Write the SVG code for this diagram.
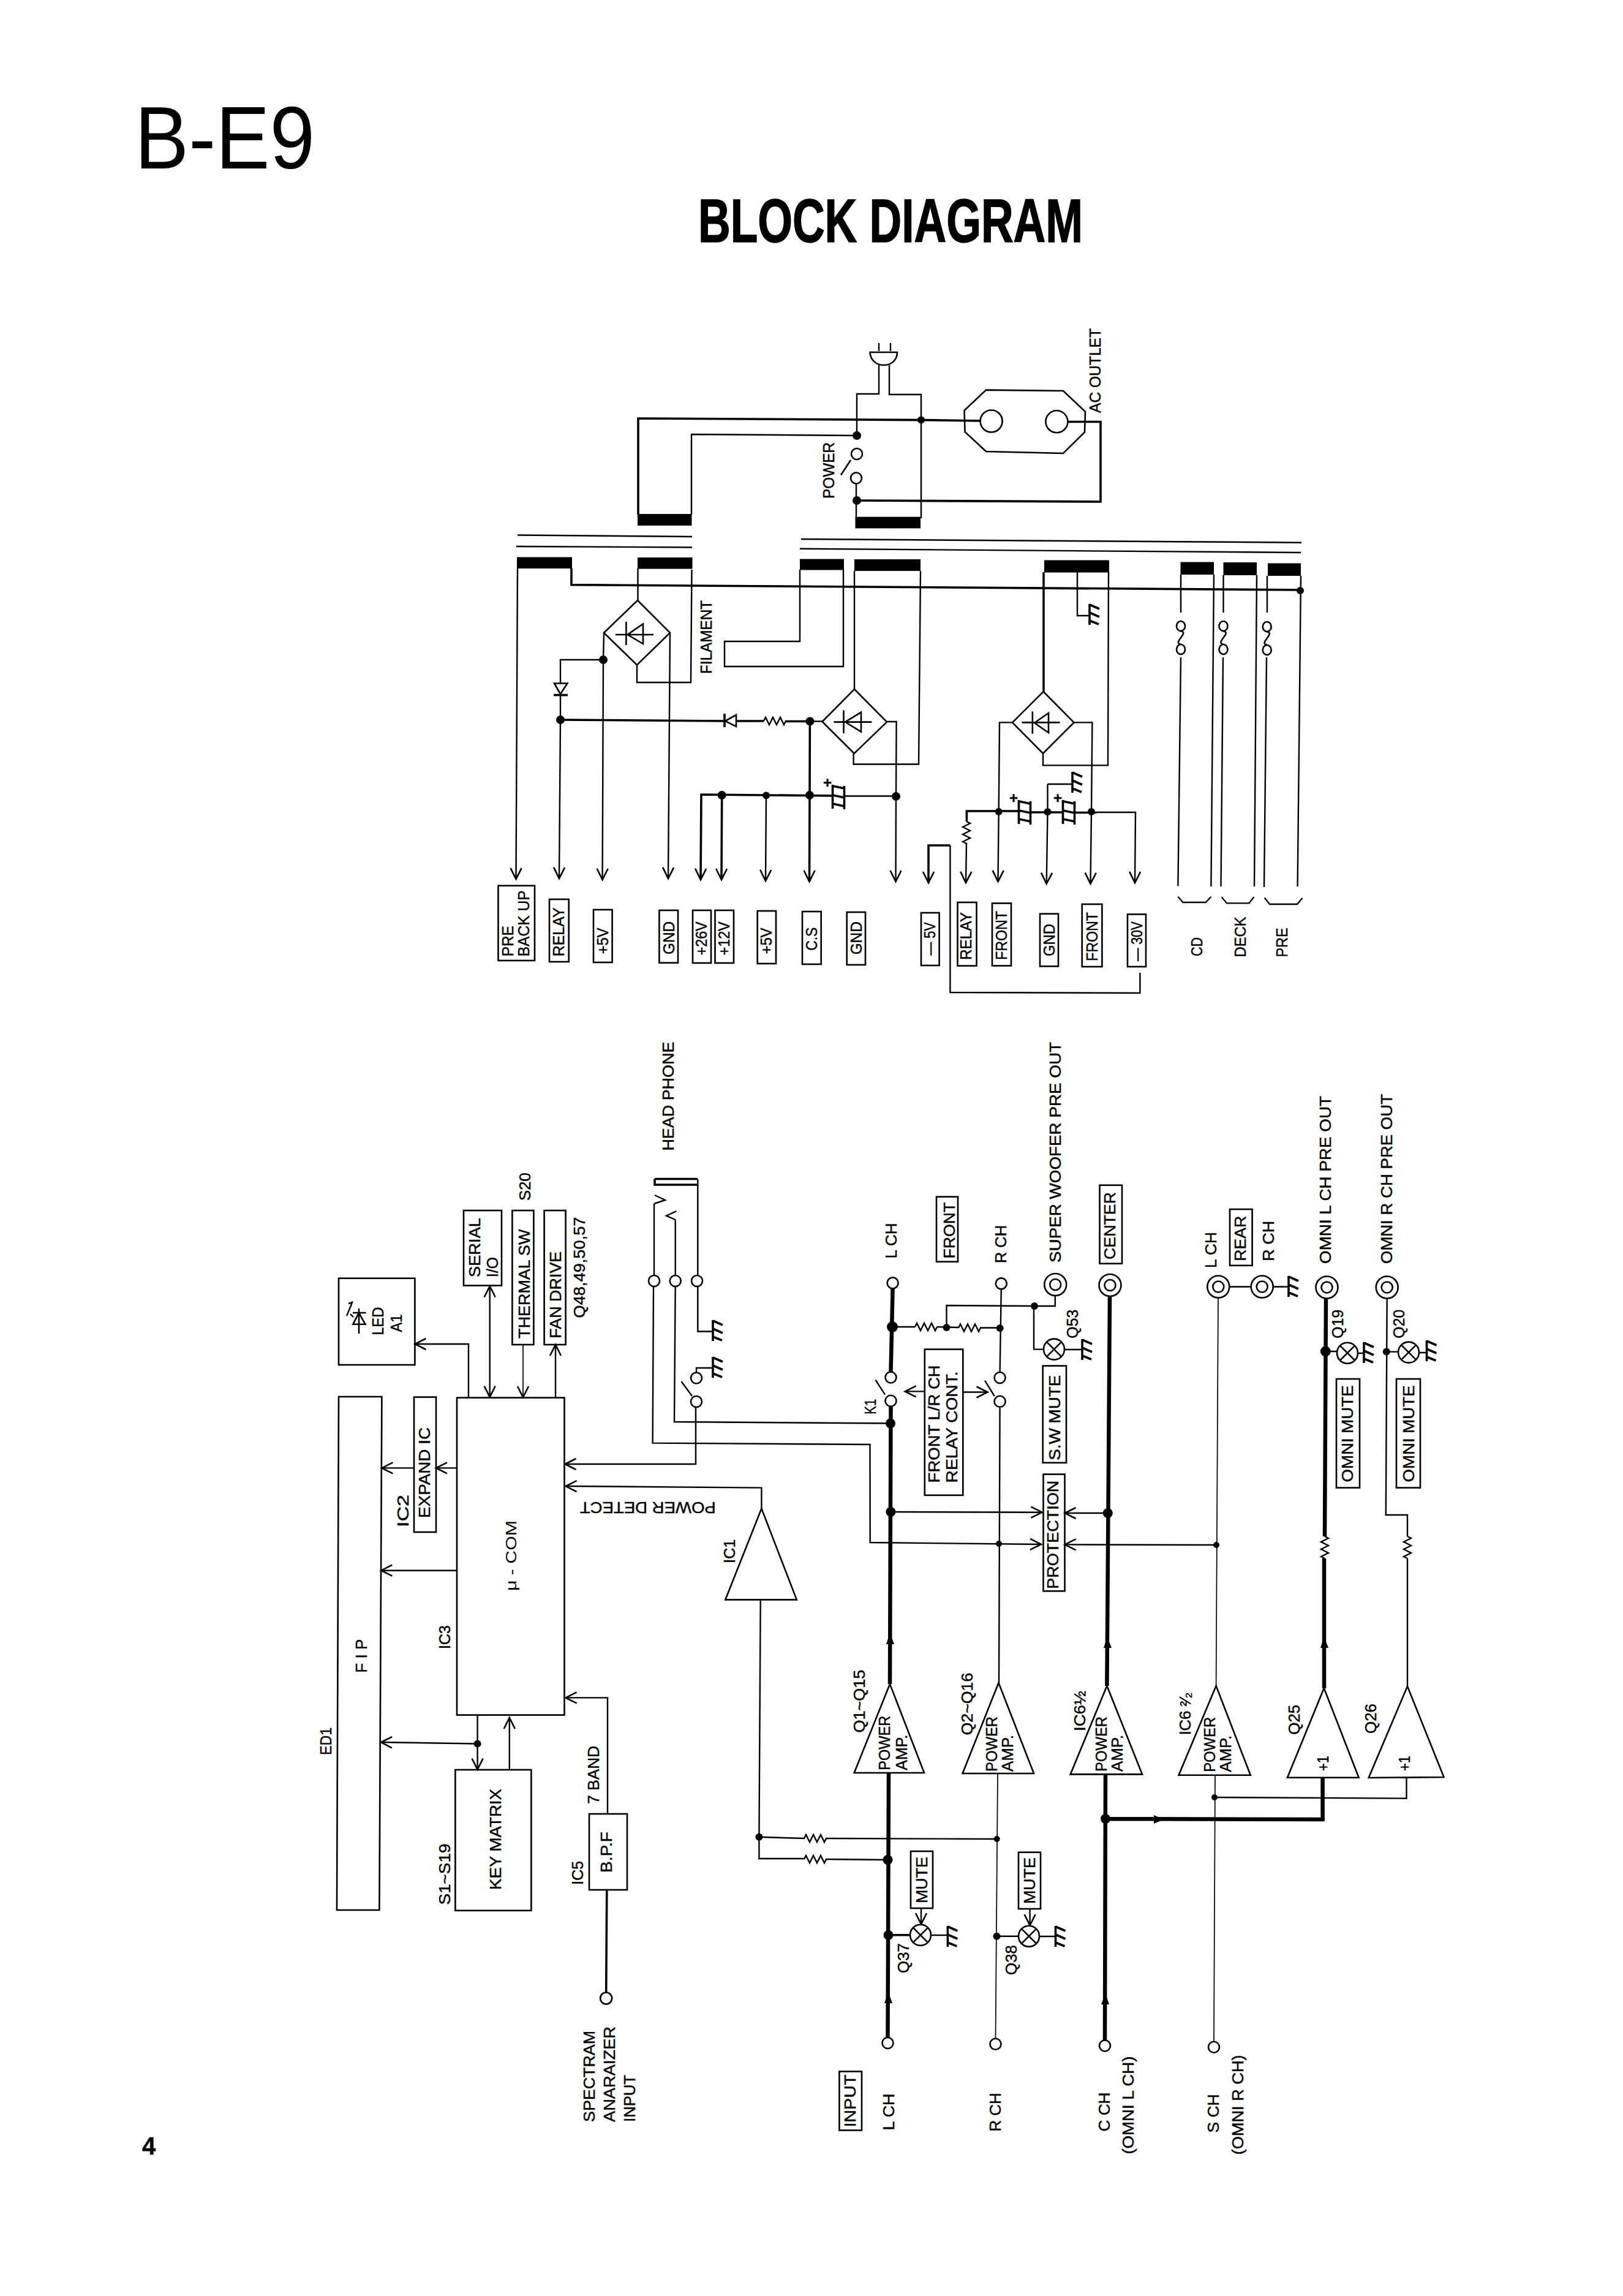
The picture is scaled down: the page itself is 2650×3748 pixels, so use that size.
<svg xmlns="http://www.w3.org/2000/svg" xmlns:xlink="http://www.w3.org/1999/xlink" width="2650" height="3748" viewBox="0 0 2650 3748">
<style>
text{font-family:"Liberation Sans",Arial,sans-serif;fill:#000;font-size:26px;stroke:#000;stroke-width:.45px}
.w,.t,.b,.bus,.s{fill:none;stroke:#000;stroke-linejoin:miter}
.w{stroke-width:2.4}.t{stroke-width:1.7}.b{stroke-width:3.6}.bus{stroke-width:6.5}
.s{stroke-width:2.6}
.o{fill:#fff;stroke:#000;stroke-width:2.6}
.k{fill:#000;stroke:none}
</style>
<defs>
<marker id="a" markerUnits="userSpaceOnUse" markerWidth="24" markerHeight="26" refX="20" refY="12" orient="auto-start-reverse"><path d="M2,3 L20,12 L2,21" fill="none" stroke="#000" stroke-width="2.6"/></marker>
<g id="gnd"><path class="b" d="M0,-17V17"/><path class="b" d="M0,-16L16,-9M0,-3L16,4M0,10L15,16"/></g>
<g id="cap"><path class="b" d="M-9.5,-19V20M9.5,-17V21M-9.5,-17L9.5,-13M-9.5,-2L9.5,2M-9.5,12L9.5,16"/></g>
<g id="rz"><path class="w" d="M0,0l3,-6l6,12l6,-12l6,12l6,-12l6,12l3,-6"/></g>
<g id="fuse"><ellipse class="s" cx="0" cy="-19" rx="7" ry="8" fill="none"/><ellipse class="s" cx="0" cy="19" rx="7" ry="8" fill="none"/><path class="s" d="M-1,-11C16,-9 -16,9 1,11"/></g>
<g id="xc"><circle class="o" r="17"/><path class="s" d="M-12,-12L12,12M-12,12L12,-12"/></g>
<g id="jk"><circle class="o" r="18"/><circle class="o" r="9"/></g>
</defs>

<g id="title">
<text x="220" y="275" textLength="294" lengthAdjust="spacingAndGlyphs" style="font-size:144px;stroke-width:0">B-E9</text>
<text x="1140" y="395" textLength="628" lengthAdjust="spacingAndGlyphs" style="font-size:100px;font-weight:700;stroke-width:1.5px">BLOCK DIAGRAM</text>
<text x="232" y="3517" style="font-size:40px;font-weight:700">4</text>
</g>

<g id="connectors">
<path class="w" d="M1435,560V573M1454,560V573M1435,596V643H1399V711M1452,596V644H1504V846"/>
<path class="w" d="M1129,840V709L1398,711"/>
<path class="b" d="M1042,840V683L1504,685.6L1601,687"/>
<path class="b" d="M1743,688.5H1797V819L1399,817"/>
<path class="w" d="M1398,790V845"/>
<path class="w" d="M845,873.5L1130,876M843,892L1130,893.5M1308,880L2125,885.7M1306,895.7L2124,902"/>
<path class="b" d="M933,928V954.6L2123,963"/>
<path class="w" d="M845,928L842.5,1435" marker-end="url(#a)"/>
<path class="w" d="M1041.5,928V980M1040,1085.5V1114H1128L1129.5,930"/>
<path class="w" d="M986,1033L985,1077L983.6,1436" marker-end="url(#a)"/>
<path class="w" d="M1094,1033L1091,1434" marker-end="url(#a)"/>
<path class="w" d="M985,1077H915V1115M915,1135V1175L913,1434" marker-end="url(#a)"/>
<path class="b" d="M915,1175L1184,1177"/>
<path class="b" d="M1202,1177H1247M1282,1177.5H1322.4"/>
<path class="w" d="M1322.4,1177.5H1342.5"/>
<path class="w" d="M1306,930V1047H1183V1088H1377V930"/>
<path class="w" d="M1395,932V1125M1393.6,1230V1247.5H1500L1503,932"/>
<path class="b" d="M1322.4,1177.5L1322,1298L1321.5,1439" marker-end="url(#a)"/>
<path class="b" d="M1144,1436L1145,1297L1360,1299" marker-start="url(#a)"/>
<path class="b" d="M1178.7,1298L1178,1436" marker-end="url(#a)"/>
<path class="w" d="M1251,1298.5L1250,1438" marker-end="url(#a)"/>
<path class="w" d="M1379,1299.5H1463"/>
<path class="w" d="M1447.5,1178H1463.6L1463,1300L1462.5,1439" marker-end="url(#a)"/>
<path class="b" d="M1551.4,1380H1516L1516,1441" marker-end="url(#a)"/>
<path class="w" d="M1551.4,1380V1620L1861.4,1621V1588"/>
<path class="b" d="M1704,934V1129"/>
<path class="w" d="M1703,1230V1249.4H1809L1810,934"/>
<path class="w" d="M1759,934V1005H1779"/>
<path class="w" d="M1653,1179.4H1632L1630.7,1325L1629.5,1439" marker-end="url(#a)"/>
<path class="w" d="M1753.5,1179.4H1783.4L1782,1325L1780.5,1442.7" marker-end="url(#a)"/>
<path class="b" d="M1578.4,1341V1324H1664M1683,1326H1735M1755,1326.5H1790"/>
<path class="w" d="M1790,1326H1854L1853,1441" marker-end="url(#a)"/>
<path class="w" d="M1578,1376L1577,1441" marker-end="url(#a)"/>
<path class="w" d="M1710.5,1280V1325L1708.7,1442.7" marker-end="url(#a)"/>
<path class="w" d="M1710.5,1280H1751"/>
<path class="w" d="M1928,938V1000M1928,1073L1923.4,1446.5M1982,938L1977.4,1447M1997.5,939V1000M1997,1073L1993.5,1447M2052,939L2048,1447M2069,940V1000M2068,1073L2064,1448M2124,940L2118.6,1447"/>
<path class="w" d="M1923.4,1463.7L1931.5,1473H1968.8L1977.4,1463.7M1994.6,1464.3L2003,1474.4H2039.4L2047.4,1464.3M2064.6,1465.6L2073,1476H2118L2126.6,1466"/>
<path class="w" d="M765,2281.6V2194H677.5" marker-end="url(#a)"/>
<path class="w" d="M799.7,2099.5V2280.6" marker-start="url(#a)" marker-end="url(#a)"/>
<path class="t" d="M854,2195V2281" marker-end="url(#a)"/>
<path class="w" d="M907,2281V2195" marker-end="url(#a)"/>
<path class="w" d="M747,2396.4H712" marker-end="url(#a)"/>
<path class="w" d="M676,2396.4H623.4" marker-end="url(#a)"/>
<path class="w" d="M745.7,2563.7H622.3" marker-end="url(#a)"/>
<path class="w" d="M779.6,2846.5L622,2844" marker-end="url(#a)"/>
<path class="w" d="M779.6,2799.5V2888.6" marker-end="url(#a)"/>
<path class="w" d="M831.8,2889V2804" marker-end="url(#a)"/>
<path class="w" d="M992,2961V2771.4H923.6" marker-end="url(#a)"/>
<path class="b" d="M990.8,3085L989.7,3253"/>
<path class="w" d="M1136,2297V2390H922.5" marker-end="url(#a)"/>
<path class="w" d="M1243.4,2463V2428.6L923.6,2426" marker-end="url(#a)"/>
<path class="w" d="M1241.7,2612.8L1239.4,2998.8V3034H1314"/>
<path class="w" d="M1239.4,2998.8L1314,3001M1348,3001L1627.7,3002M1348,3035L1449.5,3036"/>
<path class="w" d="M1139.3,1925V2173.5H1163.8"/>
<path class="w" d="M1068,1965V2082M1067,2100L1065.6,2355.6L1420.5,2358L1420.7,2518L1700,2521" marker-end="url(#a)"/>
<path class="w" d="M1102.7,1991V2082M1102.7,2100L1101,2321L1454,2323.5"/>
<path class="w" d="M1137,2240V2233H1163.8"/>
<path class="w" d="M1130,2279L1112.5,2255"/>
<path class="w" d="M1068,1965L1086,1959L1069,1951M1102.7,1991L1088,1984.7L1104.5,1977"/>
<path class="bus" d="M1457.6,2103L1454.5,2240M1454.5,2296L1453,2749M1451,2894L1449.5,3326"/>
<path class="w" d="M1445,2276.6L1429.5,2252.5"/>
<path class="w" d="M1457,2166H1494M1530,2166L1565.6,2167M1600,2167.5H1632.6M1545.5,2167V2131L1689,2132H1722.8V2116M1688,2132V2202.6H1704M1738,2203L1767,2203"/>
<path class="w" d="M1634.8,2104L1632.6,2240M1632.6,2297L1631,2747"/>
<path class="w" d="M1608,2253.6L1623.7,2279"/>
<path class="t" d="M1629,2895L1625.5,3327"/>
<path class="w" d="M1454.4,2468L1701.4,2468.7" marker-end="url(#a)"/>
<path class="w" d="M1509.8,2271.4H1477.7" marker-end="url(#a)"/>
<path class="w" d="M1572,2272.5H1612.5" marker-end="url(#a)"/>
<path class="bus" d="M1812,2116L1807.4,2752M1805,2896L1804,3330M1805,2969L2159.6,2970V2902"/>
<path class="w" d="M1808.8,2470H1738.6" marker-end="url(#a)"/>
<path class="t" d="M1989,2118L1985.6,2752M1984,2898L1982,3332"/>
<path class="w" d="M1986,2522L1738.6,2521.4" marker-end="url(#a)"/>
<path class="w" d="M1983,2934L2296.5,2935.7V2902"/>
<path class="bus" d="M2165,2119L2163,2508M2162,2544V2756"/>
<path class="w" d="M2264.7,2119L2262.8,2473H2298V2508M2298,2544V2752.7"/>
<path class="w" d="M2008,2100.5H2042M2079,2100.5H2104"/>
<path class="w" d="M1520,3159H1547"/>
<path class="w" d="M1504,3115V3141" marker-end="url(#a)"/>
<path class="b" d="M1452,3158.8H1486"/>
<path class="w" d="M1627.5,3160.7H1663M1697,3161H1723.5"/>
<path class="w" d="M1681.6,3116V3143" marker-end="url(#a)"/>
<path class="w" d="M2164.3,2206H2183M2217,2209H2226.8M2263.8,2206.6H2283M2317,2208H2329.5"/>
</g>

<g id="midline-arrows">
<path class="k" d="M1453,2666L1447,2684H1460ZM1808,2672L1802,2690H1815ZM2162,2672L2156,2690H2169ZM1450.5,3252L1444,3270H1457ZM1805,3254L1798,3272H1811ZM1900,2970L1884,2963V2977Z"/>
</g>

<g id="dots" class="k">
<circle cx="1399" cy="711" r="7"/><circle cx="1399" cy="817" r="7"/><circle cx="1504" cy="685.6" r="6"/><circle cx="2123" cy="964" r="6"/>
<circle cx="985" cy="1077" r="7"/><circle cx="915" cy="1175" r="7"/><circle cx="1322.4" cy="1177.5" r="7"/><circle cx="1322" cy="1298" r="7"/><circle cx="1178.7" cy="1298" r="7"/><circle cx="1251" cy="1298.5" r="6"/><circle cx="1463" cy="1300" r="7"/>
<circle cx="1630.7" cy="1325" r="6"/><circle cx="1710.5" cy="1325.3" r="6"/><circle cx="1782" cy="1325" r="6"/>
<circle cx="779.6" cy="2846.5" r="6"/><circle cx="1239.4" cy="2998.8" r="6"/>
<circle cx="1457" cy="2166" r="9"/><circle cx="1545.5" cy="2167" r="6"/><circle cx="1632.6" cy="2168" r="6"/><circle cx="1689" cy="2132" r="6"/><circle cx="1454" cy="2323.5" r="8"/><circle cx="1454.4" cy="2468" r="8"/><circle cx="1631" cy="2520" r="5"/><circle cx="1627.7" cy="3002" r="5"/><circle cx="1449.5" cy="3036" r="8"/><circle cx="1450.5" cy="3158.8" r="8"/><circle cx="1627.5" cy="3160.7" r="6"/>
<circle cx="1808.8" cy="2470" r="8"/><circle cx="1805" cy="2969" r="8"/><circle cx="1986" cy="2522" r="5"/><circle cx="1983" cy="2934" r="5"/><circle cx="2164.3" cy="2206" r="8.5"/><circle cx="2263.8" cy="2206.6" r="6"/>
</g>

<g id="plug"><path class="s" d="M1420.5,575H1465C1465,588 1455,596 1443,596C1431,596 1421,588 1420.5,575Z"/></g>
<g id="power-switch"><circle class="o" cx="1399" cy="741" r="9"/><circle class="o" cx="1398" cy="780.5" r="9"/><path class="s" d="M1389,751L1373,775.5"/>
<text transform="translate(1362,814) rotate(-90)" textLength="92" lengthAdjust="spacingAndGlyphs">POWER</text></g>
<g id="ac-outlet"><polygon class="s" points="1610,636.6 1736,638 1772,672 1771,705.5 1736,740 1610,737 1575.5,705 1574.5,670"/><circle class="o" cx="1618.6" cy="687.5" r="18"/><circle class="o" cx="1725.4" cy="688.3" r="18"/>
<text transform="translate(1797,674) rotate(-90)" textLength="138" lengthAdjust="spacingAndGlyphs">AC OUTLET</text></g>

<g id="connector-blocks" class="k">
<rect x="1041" y="839" width="88.5" height="19"/><rect x="1396.5" y="843.7" width="106.5" height="18.7"/>
<rect x="844" y="909.5" width="90" height="18.5"/><rect x="1041" y="910" width="89.5" height="18.6"/><rect x="1306" y="912.5" width="72" height="18"/><rect x="1395" y="913" width="108" height="19"/><rect x="1705" y="914.5" width="106" height="20"/><rect x="1927.5" y="917.5" width="54.5" height="20.5"/><rect x="1997.5" y="918" width="54.5" height="21"/><rect x="2070" y="919.5" width="54" height="20.5"/>
</g>

<g id="bridge-1"><polygon class="s" points="1041,980 1094,1033 1040,1085.5 986,1033"/><path class="s" d="M1022.4,1015V1053M1005,1036H1067M1050,1018.5V1051L1024.6,1036Z"/></g>
<g id="bridge-2"><polygon class="s" points="1395,1125 1448,1178.6 1394.7,1230 1342.5,1178"/><path class="s" d="M1377.5,1159.5V1197M1361.4,1178.6H1423.4M1406,1162.6V1194.7L1380,1178.6Z"/></g>
<g id="bridge-3"><polygon class="s" points="1703.6,1129 1753.5,1179.4 1703,1230 1653,1179.4"/><path class="s" d="M1685.8,1161.4V1197.8M1668.5,1179.4H1730.5M1712,1164V1196L1689,1180Z"/></g>
<g id="diodes"><polygon class="s" points="905,1115.5 926.4,1115.5 915,1133"/><path class="b" d="M904,1134.6H927"/><polygon class="s" points="1202,1167 1202,1186 1184,1177"/><path class="b" d="M1183,1165V1187"/></g>
<g id="resistors">
<use href="#rz" xlink:href="#rz" transform="translate(1247,1177)"/>
<use href="#rz" xlink:href="#rz" transform="translate(1578,1341) rotate(90)"/>
<use href="#rz" xlink:href="#rz" transform="translate(1494,2166)"/>
<use href="#rz" xlink:href="#rz" transform="translate(1565,2167.5)"/>
<use href="#rz" xlink:href="#rz" transform="translate(1313,3001)"/>
<use href="#rz" xlink:href="#rz" transform="translate(1313,3035)"/>
<use href="#rz" xlink:href="#rz" transform="translate(2163,2508) rotate(90)"/>
<use href="#rz" xlink:href="#rz" transform="translate(2298,2508) rotate(90)"/>
</g>
<g id="caps">
<use href="#cap" xlink:href="#cap" x="1369" y="1300"/><use href="#cap" xlink:href="#cap" x="1673" y="1325"/><use href="#cap" xlink:href="#cap" x="1745" y="1325"/>
<text x="1344" y="1286" style="font-size:24px;font-weight:700">+</text><text x="1648" y="1311" style="font-size:24px;font-weight:700">+</text><text x="1720" y="1311" style="font-size:24px;font-weight:700">+</text>
</g>
<g id="grounds">
<use href="#gnd" xlink:href="#gnd" x="1779" y="1003"/><use href="#gnd" xlink:href="#gnd" x="1751" y="1277"/>
<use href="#gnd" xlink:href="#gnd" x="1164" y="2172"/><use href="#gnd" xlink:href="#gnd" x="1164" y="2232"/>
<use href="#gnd" xlink:href="#gnd" x="1767" y="2203"/><use href="#gnd" xlink:href="#gnd" x="2104" y="2100"/><use href="#gnd" xlink:href="#gnd" x="2227" y="2208"/><use href="#gnd" xlink:href="#gnd" x="2329.5" y="2205"/>
<use href="#gnd" xlink:href="#gnd" x="1547.4" y="3161"/><use href="#gnd" xlink:href="#gnd" x="1723.5" y="3161"/>
</g>
<g id="fuses"><use href="#fuse" xlink:href="#fuse" x="1928" y="1041"/><use href="#fuse" xlink:href="#fuse" x="1997.5" y="1041"/><use href="#fuse" xlink:href="#fuse" x="2068.7" y="1042"/></g>

<g id="supply-labels">
<rect class="s" x="813.5" y="1445.8" width="59.5" height="122.2"/><text transform="translate(838,1561.3) rotate(-90)" textLength="50" lengthAdjust="spacingAndGlyphs">PRE</text><text transform="translate(864,1561.3) rotate(-90)" textLength="108" lengthAdjust="spacingAndGlyphs">BACK UP</text>
<rect class="s" x="897" y="1468" width="31.7" height="102"/><text transform="translate(920.6,1561.3) rotate(-90)" textLength="80" lengthAdjust="spacingAndGlyphs">RELAY</text>
<rect class="s" x="969" y="1485" width="30.6" height="86"/><text transform="translate(993.4,1557.5) rotate(-90)" textLength="43" lengthAdjust="spacingAndGlyphs">+5V</text>
<rect class="s" x="1076.4" y="1486" width="30.6" height="85.7"/><text transform="translate(1100.5,1558) rotate(-90)" textLength="54" lengthAdjust="spacingAndGlyphs">GND</text>
<rect class="s" x="1131" y="1486" width="30" height="86"/><text transform="translate(1154,1559.4) rotate(-90)" textLength="55" lengthAdjust="spacingAndGlyphs">+26V</text>
<rect class="s" x="1167.5" y="1486" width="30.5" height="86"/><text transform="translate(1190.7,1559.4) rotate(-90)" textLength="55" lengthAdjust="spacingAndGlyphs">+12V</text>
<rect class="s" x="1236.7" y="1487" width="30.3" height="86"/><text transform="translate(1260,1557.5) rotate(-90)" textLength="43" lengthAdjust="spacingAndGlyphs">+5V</text>
<rect class="s" x="1310" y="1488" width="30.7" height="86"/><text transform="translate(1333.6,1551.8) rotate(-90)" textLength="38" lengthAdjust="spacingAndGlyphs">C.S</text>
<rect class="s" x="1382.7" y="1489" width="30.3" height="86"/><text transform="translate(1407,1558.3) rotate(-90)" textLength="54" lengthAdjust="spacingAndGlyphs">GND</text>
<rect class="s" x="1504" y="1490" width="29.6" height="86"/><text transform="translate(1526.8,1559.4) rotate(-90)" textLength="54" lengthAdjust="spacingAndGlyphs">— 5V</text>
<rect class="s" x="1563.5" y="1473" width="31" height="103.6"/><text transform="translate(1586,1567) rotate(-90)" textLength="78" lengthAdjust="spacingAndGlyphs">RELAY</text>
<rect class="s" x="1620" y="1474.5" width="31" height="102"/><text transform="translate(1644.4,1567) rotate(-90)" textLength="80" lengthAdjust="spacingAndGlyphs">FRONT</text>
<rect class="s" x="1698" y="1491.7" width="30" height="85.7"/><text transform="translate(1722,1561) rotate(-90)" textLength="53" lengthAdjust="spacingAndGlyphs">GND</text>
<rect class="s" x="1766.7" y="1476" width="32.7" height="102"/><text transform="translate(1792,1569) rotate(-90)" textLength="80" lengthAdjust="spacingAndGlyphs">FRONT</text>
<rect class="s" x="1841" y="1492.5" width="30" height="85.5"/><text transform="translate(1865.4,1569) rotate(-90)" textLength="65" lengthAdjust="spacingAndGlyphs">— 30V</text>
<text transform="translate(1963,1561) rotate(-90)" textLength="31" lengthAdjust="spacingAndGlyphs">CD</text>
<text transform="translate(2033.6,1562.5) rotate(-90)" textLength="66" lengthAdjust="spacingAndGlyphs">DECK</text>
<text transform="translate(2102,1562.5) rotate(-90)" textLength="48" lengthAdjust="spacingAndGlyphs">PRE</text>
<text transform="translate(1162,1100) rotate(-90)" textLength="120" lengthAdjust="spacingAndGlyphs">FILAMENT</text>
</g>

<g id="led"><rect class="s" x="553" y="2086.7" width="124.4" height="141.3"/><path class="s" d="M586,2136V2177M576,2143H597.6M576.4,2161.7H596.4L586,2143Z"/><path class="w" d="M566,2148L574,2129M572,2134L575,2126L569,2128M577,2150L572,2145"/><text transform="translate(626,2179.6) rotate(-90)" textLength="46" lengthAdjust="spacingAndGlyphs">LED</text><text transform="translate(656,2174.5) rotate(-90)" textLength="29" lengthAdjust="spacingAndGlyphs">A1</text></g>
<g id="serial-io"><rect class="s" x="757" y="1976" width="62" height="122.5"/><text transform="translate(784,2085) rotate(-90)" textLength="97" lengthAdjust="spacingAndGlyphs">SERIAL</text><text transform="translate(813,2085) rotate(-90)" textLength="33" lengthAdjust="spacingAndGlyphs">I/O</text></g>
<g id="thermal-sw"><rect class="s" x="836.4" y="1976" width="35" height="219"/><text transform="translate(864.5,2184.7) rotate(-90)" textLength="178" lengthAdjust="spacingAndGlyphs">THERMAL SW</text><text transform="translate(865.7,1960) rotate(-90)" textLength="46" lengthAdjust="spacingAndGlyphs">S20</text></g>
<g id="fan-drive"><rect class="s" x="888.6" y="1976" width="35" height="219"/><text transform="translate(916,2184.7) rotate(-90)" textLength="142" lengthAdjust="spacingAndGlyphs">FAN DRIVE</text><text transform="translate(955,2151.5) rotate(-90)" textLength="165" lengthAdjust="spacingAndGlyphs">Q48,49,50,57</text></g>
<g id="ic3-ucom"><rect class="s" x="746" y="2281.6" width="175.5" height="518"/><text transform="translate(843,2597) rotate(-90)" textLength="115" lengthAdjust="spacingAndGlyphs" style="font-size:24px;stroke-width:0">μ - COM</text><text transform="translate(735,2692) rotate(-90)" textLength="39" lengthAdjust="spacingAndGlyphs">IC3</text></g>
<g id="fip"><polygon class="s" points="553,2280 623.4,2280 619.4,3118 550,3118"/><text transform="translate(598.7,2730.7) rotate(-90)" textLength="55" lengthAdjust="spacingAndGlyphs">F I P</text><text transform="translate(541,2865) rotate(-90)" textLength="45" lengthAdjust="spacingAndGlyphs">ED1</text></g>
<g id="expand-ic"><rect class="s" x="676" y="2280.6" width="36" height="220.4"/><text transform="translate(702,2478) rotate(-90)" textLength="148" lengthAdjust="spacingAndGlyphs">EXPAND IC</text><text transform="translate(666.5,2493) rotate(-90)" textLength="53" lengthAdjust="spacingAndGlyphs">IC2</text></g>
<g id="key-matrix"><rect class="s" x="743.4" y="2889" width="124" height="229.8"/><text transform="translate(817.5,3085) rotate(-90)" textLength="165" lengthAdjust="spacingAndGlyphs">KEY MATRIX</text><text transform="translate(735,3109.6) rotate(-90)" textLength="100" lengthAdjust="spacingAndGlyphs">S1~S19</text></g>
<g id="bpf"><rect class="s" x="962" y="2961" width="62" height="124"/><text transform="translate(999.4,3057) rotate(-90)" textLength="67" lengthAdjust="spacingAndGlyphs">B.P.F</text><text transform="translate(978,2944.7) rotate(-90)" textLength="95" lengthAdjust="spacingAndGlyphs">7 BAND</text><text transform="translate(952.4,3076.7) rotate(-90)" textLength="39" lengthAdjust="spacingAndGlyphs">IC5</text></g>
<g id="spectrum-in"><circle class="o" cx="989.7" cy="3262" r="9.5"/><text transform="translate(970.7,3464) rotate(-90)" textLength="149" lengthAdjust="spacingAndGlyphs">SPECTRAM</text><text transform="translate(1004,3464) rotate(-90)" textLength="156" lengthAdjust="spacingAndGlyphs">ANARAIZER</text><text transform="translate(1036.7,3464) rotate(-90)" textLength="77" lengthAdjust="spacingAndGlyphs">INPUT</text></g>
<g id="ic1"><polygon class="s" points="1243.4,2462.6 1184.3,2611.4 1300.8,2611.4"/><text transform="translate(1200,2551.8) rotate(-90)" textLength="39" lengthAdjust="spacingAndGlyphs">IC1</text><text transform="translate(1168.8,2451.5) rotate(180)" textLength="222" lengthAdjust="spacingAndGlyphs">POWER DETECT</text></g>

<g id="headphone">
<path class="b" d="M1069,1924.5H1139M1069,1924.5V1934H1139"/><circle class="o" cx="1068" cy="2091" r="9"/><circle class="o" cx="1102.7" cy="2091" r="9"/><circle class="o" cx="1138" cy="2091" r="9"/><circle class="o" cx="1137" cy="2288" r="9"/><circle class="o" cx="1137" cy="2249.5" r="9"/>
<text transform="translate(1100,1878.6) rotate(-90)" textLength="178" lengthAdjust="spacingAndGlyphs">HEAD PHONE</text>
</g>
<g id="front-output">
<circle class="o" cx="1457.6" cy="2094.4" r="9"/><circle class="o" cx="1454.5" cy="2248.5" r="9"/><circle class="o" cx="1454.5" cy="2286.7" r="9"/>
<circle class="o" cx="1634.8" cy="2095.4" r="9"/><circle class="o" cx="1632.6" cy="2249" r="9"/><circle class="o" cx="1632.6" cy="2287.8" r="9"/>
<text transform="translate(1463.8,2054.6) rotate(-90)" textLength="58" lengthAdjust="spacingAndGlyphs">L CH</text>
<text transform="translate(1642.8,2062) rotate(-90)" textLength="62" lengthAdjust="spacingAndGlyphs">R CH</text>
<rect class="s" x="1529" y="1953.6" width="35" height="106"/><text transform="translate(1559,2054.6) rotate(-90)" textLength="92" lengthAdjust="spacingAndGlyphs">FRONT</text>
<text transform="translate(1429.5,2308.7) rotate(-90)" textLength="25" lengthAdjust="spacingAndGlyphs">K1</text>
<rect class="s" x="1509.8" y="2202.6" width="62.5" height="238.2"/><text transform="translate(1534.4,2420.4) rotate(-90)" textLength="192" lengthAdjust="spacingAndGlyphs">FRONT L/R CH</text><text transform="translate(1563.4,2420.4) rotate(-90)" textLength="182" lengthAdjust="spacingAndGlyphs">RELAY CONT.</text>
</g>
<g id="super-woofer"><use href="#jk" xlink:href="#jk" x="1723.2" y="2097"/><use href="#xc" xlink:href="#xc" x="1721" y="2202.6"/>
<text transform="translate(1732,2061) rotate(-90)" textLength="360" lengthAdjust="spacingAndGlyphs">SUPER WOOFER PRE  OUT</text>
<text transform="translate(1760,2184.7) rotate(-90)" textLength="47" lengthAdjust="spacingAndGlyphs">Q53</text>
<rect class="s" x="1702.7" y="2229.6" width="38.3" height="158.2"/><text transform="translate(1730.8,2383.7) rotate(-90)" textLength="139" lengthAdjust="spacingAndGlyphs">S.W MUTE</text></g>
<g id="protection"><rect class="s" x="1703.5" y="2406.6" width="35" height="190.7"/><text transform="translate(1728,2593.8) rotate(-90)" textLength="177" lengthAdjust="spacingAndGlyphs">PROTECTION</text></g>
<g id="center"><use href="#jk" xlink:href="#jk" x="1812.5" y="2098"/><rect class="s" x="1795.5" y="1934.7" width="36.5" height="128"/><text transform="translate(1821.4,2056) rotate(-90)" textLength="110" lengthAdjust="spacingAndGlyphs">CENTER</text></g>
<g id="rear"><use href="#jk" xlink:href="#jk" x="1989.3" y="2100.5"/><use href="#jk" xlink:href="#jk" x="2060.7" y="2100.5"/>
<text transform="translate(1985.7,2070) rotate(-90)" textLength="59" lengthAdjust="spacingAndGlyphs">L CH</text><rect class="s" x="2008" y="1974" width="36.6" height="91.8"/><text transform="translate(2034,2058.7) rotate(-90)" textLength="74" lengthAdjust="spacingAndGlyphs">REAR</text><text transform="translate(2079.5,2058.7) rotate(-90)" textLength="66" lengthAdjust="spacingAndGlyphs">R CH</text></g>
<g id="omni-l"><use href="#jk" xlink:href="#jk" x="2166.5" y="2101.5"/><use href="#xc" xlink:href="#xc" x="2200" y="2208.7"/><text transform="translate(2173,2063) rotate(-90)" textLength="274" lengthAdjust="spacingAndGlyphs">OMNI L CH PRE OUT</text><text transform="translate(2193,2184.7) rotate(-90)" textLength="47" lengthAdjust="spacingAndGlyphs">Q19</text><rect class="s" x="2182" y="2251" width="38" height="177.6"/><text transform="translate(2209,2419.4) rotate(-90)" textLength="158" lengthAdjust="spacingAndGlyphs">OMNI MUTE</text></g>
<g id="omni-r"><use href="#jk" xlink:href="#jk" x="2264.7" y="2101.5"/><use href="#xc" xlink:href="#xc" x="2300" y="2207.6"/><text transform="translate(2273,2063) rotate(-90)" textLength="277" lengthAdjust="spacingAndGlyphs">OMNI R CH PRE OUT</text><text transform="translate(2292.8,2184.7) rotate(-90)" textLength="47" lengthAdjust="spacingAndGlyphs">Q20</text><rect class="s" x="2280" y="2251" width="39" height="177.6"/><text transform="translate(2309.4,2419.4) rotate(-90)" textLength="158" lengthAdjust="spacingAndGlyphs">OMNI MUTE</text></g>

<g id="amp-l"><polygon class="s" points="1453,2749 1394.7,2894 1509,2894"/><text transform="translate(1453,2889.7) rotate(-90)" textLength="89" lengthAdjust="spacingAndGlyphs">POWER</text><text transform="translate(1481,2889.7) rotate(-90)" textLength="58" lengthAdjust="spacingAndGlyphs">AMP.</text><text transform="translate(1412,2828.6) rotate(-90)" textLength="103" lengthAdjust="spacingAndGlyphs">Q1~Q15</text></g>
<g id="amp-r"><polygon class="s" points="1630.5,2747 1571.6,2895 1688,2895"/><text transform="translate(1628.4,2892) rotate(-90)" textLength="90" lengthAdjust="spacingAndGlyphs">POWER</text><text transform="translate(1654,2892) rotate(-90)" textLength="60" lengthAdjust="spacingAndGlyphs">AMP.</text><text transform="translate(1587.7,2832.6) rotate(-90)" textLength="102" lengthAdjust="spacingAndGlyphs">Q2~Q16</text></g>
<g id="amp-c"><polygon class="s" points="1807.4,2752 1747.7,2896.4 1865,2896.4"/><text transform="translate(1807,2892) rotate(-90)" textLength="90" lengthAdjust="spacingAndGlyphs">POWER</text><text transform="translate(1833,2892) rotate(-90)" textLength="60" lengthAdjust="spacingAndGlyphs">AMP.</text><text transform="translate(1771.6,2826) rotate(-90)" textLength="66" lengthAdjust="spacingAndGlyphs">IC6½</text></g>
<g id="amp-s"><polygon class="s" points="1985.6,2752 1924.6,2897.8 2041.8,2897.8"/><text transform="translate(1984,2892.8) rotate(-90)" textLength="90" lengthAdjust="spacingAndGlyphs">POWER</text><text transform="translate(2010,2892.8) rotate(-90)" textLength="60" lengthAdjust="spacingAndGlyphs">AMP.</text><text transform="translate(1944,2832.6) rotate(-90)" textLength="70" lengthAdjust="spacingAndGlyphs">IC6 ²⁄₂</text></g>
<g id="q25"><polygon class="s" points="2161.8,2755.8 2102,2901.8 2218.6,2901.8"/><text transform="translate(2168.7,2891) rotate(-90)" textLength="25" lengthAdjust="spacingAndGlyphs">+1</text><text transform="translate(2122,2831.7) rotate(-90)" textLength="49" lengthAdjust="spacingAndGlyphs">Q25</text></g>
<g id="q26"><polygon class="s" points="2298,2752.7 2234.7,2902 2357.5,2901"/><text transform="translate(2302,2891) rotate(-90)" textLength="25" lengthAdjust="spacingAndGlyphs">+1</text><text transform="translate(2247,2830) rotate(-90)" textLength="49" lengthAdjust="spacingAndGlyphs">Q26</text></g>

<g id="mute-l"><use href="#xc" xlink:href="#xc" x="1503" y="3158.8"/><rect class="s" x="1487" y="3022" width="36" height="93"/><text transform="translate(1514,3107) rotate(-90)" textLength="76" lengthAdjust="spacingAndGlyphs">MUTE</text><text transform="translate(1483.7,3221) rotate(-90)" textLength="49" lengthAdjust="spacingAndGlyphs">Q37</text></g>
<g id="mute-r"><use href="#xc" xlink:href="#xc" x="1680" y="3160.7"/><rect class="s" x="1663" y="3023.7" width="36" height="92.3"/><text transform="translate(1690,3108) rotate(-90)" textLength="76" lengthAdjust="spacingAndGlyphs">MUTE</text><text transform="translate(1659.7,3224) rotate(-90)" textLength="49" lengthAdjust="spacingAndGlyphs">Q38</text></g>
<g id="inputs">
<circle class="o" cx="1449.5" cy="3335" r="9"/><circle class="o" cx="1625.5" cy="3336.8" r="9"/><circle class="o" cx="1804" cy="3339.5" r="9"/><circle class="o" cx="1982" cy="3341.7" r="9"/>
<rect class="s" x="1370.4" y="3381.5" width="36.6" height="96"/><text transform="translate(1397,3472.6) rotate(-90)" textLength="86" lengthAdjust="spacingAndGlyphs">INPUT</text>
<text transform="translate(1459.7,3477.6) rotate(-90)" textLength="60" lengthAdjust="spacingAndGlyphs">L CH</text>
<text transform="translate(1634,3479.5) rotate(-90)" textLength="63" lengthAdjust="spacingAndGlyphs">R CH</text>
<text transform="translate(1811.7,3479.5) rotate(-90)" textLength="64" lengthAdjust="spacingAndGlyphs">C CH</text>
<text transform="translate(1851,3516.6) rotate(-90)" textLength="160" lengthAdjust="spacingAndGlyphs">(OMNI L CH)</text>
<text transform="translate(1989.8,3481.4) rotate(-90)" textLength="63" lengthAdjust="spacingAndGlyphs">S CH</text>
<text transform="translate(2029.6,3517.4) rotate(-90)" textLength="163" lengthAdjust="spacingAndGlyphs">(OMNI R CH)</text>
</g>
</svg>
